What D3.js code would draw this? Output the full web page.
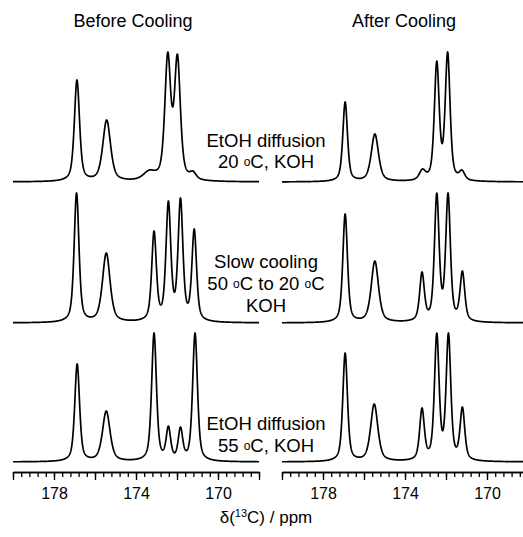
<!DOCTYPE html>
<html><head><meta charset="utf-8">
<script src="https://cdn.jsdelivr.net/npm/d3@7"></script>
<style>
body{margin:0;background:#fff}
text{font-family:Arial,"Liberation Sans",sans-serif;fill:#000}
</style>
</head><body>
<svg id="c" width="523" height="537"></svg>
<script>
// ---------- data ----------
const panelTitles = ["Before Cooling", "After Cooling"];
const ppmDomain = [180, 168];
const majorTicks = [180, 178, 176, 174, 172, 170, 168];
const tickLabels = [178, 174, 170];
const minorTicks = d3.range(0, 31).map(i => +(180 - i * 0.4).toFixed(2));
const rowLabels = [
  ["EtOH diffusion", "20 |C, KOH"],
  ["Slow cooling", "50 |C to 20 |C", "KOH"],
  ["EtOH diffusion", "55 |C, KOH"]
];

// peak tables: position (ppm), height at maximum (a.u.), FWHM (ppm)
const before20Pos    = [176.88, 175.43, 173.35, 172.45, 171.98, 171.22];
const before20Height = [102, 62, 12, 130, 128, 11];
const before20Width  = [0.30, 0.45, 0.70, 0.34, 0.34, 0.36];

const after20Pos     = [176.92, 175.47, 173.15, 172.45, 171.92, 171.22];
const after20Height  = [80, 48, 13, 121, 130, 12];
const after20Width   = [0.27, 0.42, 0.36, 0.28, 0.28, 0.32];

const beforeSlowPos    = [176.90, 175.45, 173.12, 172.42, 171.83, 171.16];
const beforeSlowHeight = [130, 70, 92, 122, 125, 94];
const beforeSlowWidth  = [0.28, 0.44, 0.27, 0.28, 0.28, 0.27];

const afterSlowPos    = [176.92, 175.47, 173.17, 172.45, 171.90, 171.20];
const afterSlowHeight = [109, 62, 51, 130, 130, 52];
const afterSlowWidth  = [0.27, 0.42, 0.27, 0.27, 0.27, 0.27];

const before55Pos    = [176.87, 175.45, 173.12, 172.42, 171.83, 171.12];
const before55Height = [98, 51, 129, 36, 35, 129];
const before55Width  = [0.28, 0.44, 0.28, 0.26, 0.26, 0.28];

const after55Pos    = [176.92, 175.50, 173.17, 172.45, 171.88, 171.20];
const after55Height = [109, 58, 54, 129, 129, 55];
const after55Width  = [0.27, 0.42, 0.27, 0.27, 0.27, 0.27];

const spectra = [
  [[before20Pos, before20Height, before20Width], [after20Pos, after20Height, after20Width]],
  [[beforeSlowPos, beforeSlowHeight, beforeSlowWidth], [afterSlowPos, afterSlowHeight, afterSlowWidth]],
  [[before55Pos, before55Height, before55Width], [after55Pos, after55Height, after55Width]]
];

// ---------- layout ----------
const svg = d3.select("#c");
const panelRanges = [[13, 259], [282, 528]];
const titleX = [133, 404];
const rowBaselines = [182, 323, 462];
const rowScale = 130; // px for 130 a.u.
const axisY = 472;
const eta = 0.55;

function shape(x, p, w) {
  const t = (x - p) / (w / 2);
  const lor = 1 / (1 + t * t);
  const gau = Math.exp(-Math.LN2 * t * t);
  return eta * lor + (1 - eta) * gau;
}
function solve(M, b) {
  const n = b.length, A = M.map((r, i) => r.concat([b[i]]));
  for (let c = 0; c < n; c++) {
    let piv = c;
    for (let r = c + 1; r < n; r++) if (Math.abs(A[r][c]) > Math.abs(A[piv][c])) piv = r;
    [A[c], A[piv]] = [A[piv], A[c]];
    for (let r = 0; r < n; r++) if (r !== c) {
      const f = A[r][c] / A[c][c];
      for (let k = c; k <= n; k++) A[r][k] -= f * A[c][k];
    }
  }
  return A.map((r, i) => r[n] / r[i]);
}
function buildSpectrum(pos, hgt, wid) {
  const M = pos.map(pi => pos.map((pj, j) => shape(pi, pj, wid[j])));
  const amp = solve(M, hgt);
  const xs = d3.range(180, 167.995, -0.01);
  return xs.map(x => [x, d3.sum(pos, (p, j) => amp[j] * shape(x, p, wid[j]))]);
}

panelRanges.forEach((rng, pi) => {
  const x = d3.scaleLinear().domain(ppmDomain).range(rng);
  svg.append("text").attr("x", titleX[pi]).attr("y", 27).attr("text-anchor", "middle")
    .style("font-size", "18px").text(panelTitles[pi]);

  rowBaselines.forEach((b, ri) => {
    const y = d3.scaleLinear().domain([0, 130]).range([b, b - rowScale]);
    const [pos, hgt, wid] = spectra[ri][pi];
    const data = buildSpectrum(pos, hgt, wid);
    svg.append("path").datum(data)
      .attr("fill", "none").attr("stroke", "#000").attr("stroke-width", 1.7)
      .attr("stroke-linejoin", "round")
      .attr("d", d3.line().x(d => x(d[0])).y(d => y(d[1])));
  });

  const gMinor = svg.append("g").attr("transform", `translate(0,${axisY})`)
    .call(d3.axisBottom(x).tickValues(minorTicks).tickSize(5).tickSizeOuter(0).tickFormat(""));
  const gMajor = svg.append("g").attr("transform", `translate(0,${axisY})`)
    .call(d3.axisBottom(x).tickValues(majorTicks).tickSize(8).tickSizeOuter(0)
      .tickFormat(d => tickLabels.includes(d) ? d : ""));
  [gMinor, gMajor].forEach(g => {
    g.select(".domain").attr("stroke", "#000").attr("stroke-width", 1.7);
    g.selectAll(".tick line").attr("stroke", "#000").attr("stroke-width", 1.3);
  });
  gMajor.selectAll(".tick text").attr("y", 16).attr("dy", "0.71em")
    .style("font-size", "16px").style("font-family", "Arial, 'Liberation Sans', sans-serif");
});

// row labels
const labelBaselines = [[147, 168], [268, 290, 312], [430, 452]];
rowLabels.forEach((lines, ri) => {
  lines.forEach((ln, li) => {
    const t = svg.append("text").attr("x", 266).attr("y", labelBaselines[ri][li])
      .attr("text-anchor", "middle").style("font-size", "18.5px");
    ln.split("|").forEach((part, k) => {
      if (k > 0) t.append("tspan").style("font-size", "12px").attr("dy", -2).text("o");
      t.append("tspan").attr("dy", k > 0 ? 2 : 0).text(part);
    });
  });
});

// x axis title
const xt = svg.append("text").attr("x", 266).attr("y", 523).attr("text-anchor", "middle")
  .style("font-size", "17px");
xt.append("tspan").text("δ(");
xt.append("tspan").style("font-size", "11px").attr("dy", -6).text("13");
xt.append("tspan").attr("dy", 6).text("C) / ppm");
</script>
</body></html>
